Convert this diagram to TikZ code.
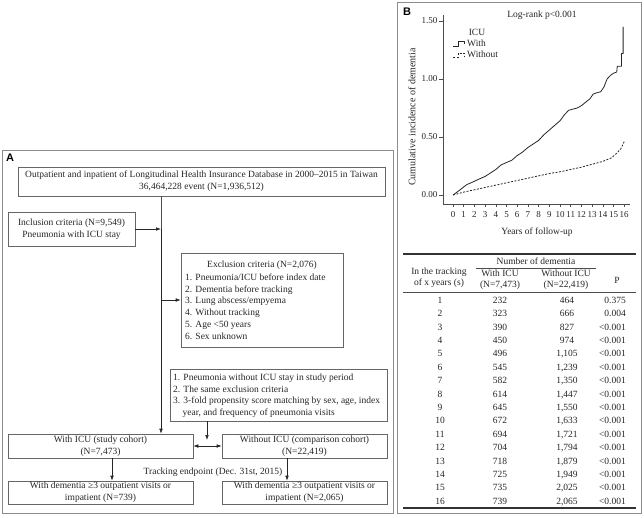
\documentclass[tikz,border=0pt]{standalone}
\usepackage{fontspec}
\setmainfont{Liberation Serif}
\newfontfamily\labfont{Liberation Sans}
\usetikzlibrary{arrows.meta}
\begin{document}
\begin{tikzpicture}[x=1pt,y=-1pt,
  every node/.style={inner sep=0pt, text=black!85},
  tx/.style={font=\fontsize{9.5}{11.8}\selectfont},
  sm/.style={font=\fontsize{9}{10}\selectfont},
  box/.style={draw=black!60, line width=0.6pt, tx, align=center},
  arr/.style={draw=black!85, line width=0.6pt, -{Latex[length=5pt,width=3.6pt]}},
  darr/.style={draw=black!85, line width=0.6pt, {Latex[length=5pt,width=3.6pt]}-{Latex[length=5pt,width=3.6pt]}},
  panel/.style={draw=black!45, line width=0.9pt},
  lab/.style={font=\labfont\bfseries\fontsize{11}{11}\selectfont, text=black},
  axisline/.style={draw=black!70, line width=0.6pt},
  solidcurve/.style={draw=black!85, line width=0.8pt, line join=round},
  dashcurve/.style={draw=black!85, line width=0.8pt, dash pattern=on 2pt off 1.5pt},
  rulethick/.style={draw=black!80, line width=1.2pt},
  rulethin/.style={draw=black!70, line width=0.6pt}
]
\useasboundingbox (0,0) rectangle (644,517);
\fill[white] (0,0) rectangle (644,517);

% ---------------- Panel A ----------------
\draw[panel] (2,150) rectangle (393,513);
\node[lab] (labA) at (10,158) {A};

\node[box, minimum width=367pt, minimum height=29pt] (db) at (201.5,181.5)
  {Outpatient and inpatient of Longitudinal Health Insurance Database in 2000–2015 in Taiwan\\36,464,228 event (N=1,936,512)};

\node[box, minimum width=127pt, minimum height=34pt] (incl) at (71.5,229)
  {Inclusion criteria (N=9,549)\\Pneumonia with ICU stay};

\node[box, minimum width=162pt, minimum height=94pt] (excl) at (262,300) {};
\node[tx] (exT) at (262,265) {Exclusion criteria (N=2,076)};
\foreach \t [count=\k] in {1. Pneumonia/ICU before index date, 2. Dementia before tracking,
  3. Lung abscess/empyema, 4. Without tracking, 5. Age <50 years, 6. Sex unknown}
  \node[tx, anchor=base west] (ex\k) at (185,{280.3+(\k-1)*11.8}) {\t};

\node[box, minimum width=217pt, minimum height=52pt] (prop) at (278.5,395) {};
\node[tx, anchor=base west] (pr1) at (173,380.3) {1. Pneumonia without ICU stay in study period};
\node[tx, anchor=base west] (pr2) at (173,392.1) {2. The same exclusion criteria};
\node[tx, anchor=base west] (pr3) at (173,403.9) {3. 3-fold propensity score matching by sex, age, index};
\node[tx, anchor=base west] (pr4) at (182.5,415.7) {year, and frequency of pneumonia visits};

\node[box, minimum width=185pt, minimum height=24pt] (wicu) at (100.5,446)
  {With ICU (study cohort)\\(N=7,473)};
\node[box, minimum width=165pt, minimum height=24pt] (woicu) at (304.5,446)
  {Without ICU (comparison cohort)\\(N=22,419)};

\node[tx] (track) at (213,472) {Tracking endpoint (Dec. 31st, 2015)};

\node[box, minimum width=185pt, minimum height=23pt] (dl) at (100.5,492.5)
  {With dementia ≥3 outpatient visits or\\impatient (N=739)};
\node[box, minimum width=165pt, minimum height=23pt] (dr) at (304.5,492.5)
  {With dementia ≥3 outpatient visits or\\impatient (N=2,065)};

\coordinate (v) at (161,0);
\coordinate (pa) at (207,440);
\coordinate (cl) at (112,0);
\coordinate (cr) at (287,0);
\draw[axisline] (db.south -| v) -- (v |- incl.east);
\draw[arr] (v |- incl.east) -- (wicu.north -| v);
\draw[arr] (incl.east) -- (incl.east -| v);
\draw[arr] (excl.west -| v) -- (excl.west);
\draw[arr] (prop.south -| pa) -- (pa);
\draw[darr] (wicu.east) -- (woicu.west);
\draw[arr] (wicu.south -| cl) -- (dl.north -| cl);
\draw[arr] (woicu.south -| cr) -- (dr.north -| cr);

% ---------------- Panel B ----------------
\draw[panel] (397,2) rectangle (641,513);
\node[lab] (labB) at (407,12) {B};
\node[tx] (logrank) at (542,15) {Log-rank p<0.001};

\draw[axisline] (443,15) -- (443,204) -- (630,204);
\foreach \v/\l in {0/0.00,0.5/0.50,1/1.00,1.5/1.50}{
  \draw[axisline] (439,{195-116*\v}) -- (443,{195-116*\v});
  \node[sm, anchor=east] (yt\l) at (437.5,{195-116*\v}) {\l};
}
\foreach \k in {0,...,16}{
  \draw[axisline] ({453+10.7*\k},204) -- ({453+10.7*\k},207);
  \node[sm] (xt\k) at ({453+10.7*\k},214.5) {\k};
}
\node[tx] (xlab) at (537,232) {Years of follow-up};
\node[font=\fontsize{10}{10}\selectfont, rotate=90] (ylab) at (412,117) {Cumulative incidence of dementia};

\node[tx] (icu) at (477,32) {ICU};
\node[tx, anchor=west] (lw) at (467,43.5) {With};
\node[tx, anchor=west] (lwo) at (467,54.5) {Without};
\draw[solidcurve] (453,46) -- (458,46) -- (458,41) -- (464,41) -- (464,44);
\draw[dashcurve] (453,57) -- (458,57) -- (458,53) -- (464,53) -- (464,56);

\begin{scope}[shift={(453pt,-195pt)}, x=10.7pt, y=116pt]
\draw[solidcurve] plot coordinates {(0,0) (0.3,0.02) (0.6,0.04) (1,0.07) (1.3,0.09) (1.8,0.11)
  (2.5,0.14) (3,0.16) (3.5,0.19) (4,0.22) (4.5,0.26) (5,0.28) (5.5,0.30) (6,0.34) (6.5,0.37)
  (7,0.41) (7.5,0.44) (8,0.47) (8.5,0.52) (9,0.56) (9.5,0.60) (10,0.64) (10.4,0.69) (10.8,0.73)
  (11.2,0.74) (11.6,0.75) (12,0.77) (12.4,0.80) (12.8,0.83) (13.1,0.87) (13.4,0.88) (13.8,0.89)
  (14.1,0.93) (14.4,1.00) (14.7,1.03) (15,1.05) (15.3,1.06) (15.35,1.11) (15.75,1.11)
  (15.75,1.22) (15.9,1.22) (15.9,1.45)};
\draw[dashcurve] plot coordinates {(0,0) (1,0.025) (2,0.045) (3,0.065) (4,0.085) (5,0.105)
  (6,0.125) (7,0.145) (8,0.165) (9,0.185) (10,0.2) (11,0.22) (12,0.24) (13,0.265) (14,0.29)
  (14.8,0.32) (15.3,0.36) (15.7,0.40) (15.9,0.44) (16,0.46)};
\end{scope}

% table
\draw[rulethick] (403,254) -- (636,254);
\node[tx] (hnum) at (536,261.5) {Number of dementia};
\draw[rulethin] (476,268.5) -- (596,268.5);
\node[tx, align=center, font=\fontsize{9.5}{10.6}\selectfont] (hc1) at (439,278) {In the tracking\\of x years (s)};
\node[tx, align=center, font=\fontsize{9.5}{10.6}\selectfont] (hc2) at (500,280) {With ICU\\(N=7,473)};
\node[tx, align=center, font=\fontsize{9.5}{10.6}\selectfont] (hc3) at (566,280) {Without ICU\\(N=22,419)};
\node[tx] (hc4) at (617,280) {P};
\draw[rulethin] (403,292.5) -- (636,292.5);
\foreach \a/\b/\p [count=\k] in {232/464/0.375, 323/666/0.004, 390/827/<0.001, 450/974/<0.001,
  496/{1,105}/<0.001, 545/{1,239}/<0.001, 582/{1,350}/<0.001, 614/{1,447}/<0.001,
  645/{1,550}/<0.001, 672/{1,633}/<0.001, 694/{1,721}/<0.001, 704/{1,794}/<0.001,
  718/{1,879}/<0.001, 725/{1,949}/<0.001, 735/{2,025}/<0.001, 739/{2,065}/<0.001}{
  \node[tx, anchor=base] (r\k c1) at (440,{303.3+(\k-1)*13.4}) {\k};
  \node[tx, anchor=base] (r\k c2) at (500,{303.3+(\k-1)*13.4}) {\a};
  \node[tx, anchor=base] (r\k c3) at (567,{303.3+(\k-1)*13.4}) {\b};
  \node[tx, anchor=base east] (r\k c4) at (626,{303.3+(\k-1)*13.4}) {\p};
}
\draw[rulethick] (403,508) -- (636,508);
\end{tikzpicture}
\end{document}
